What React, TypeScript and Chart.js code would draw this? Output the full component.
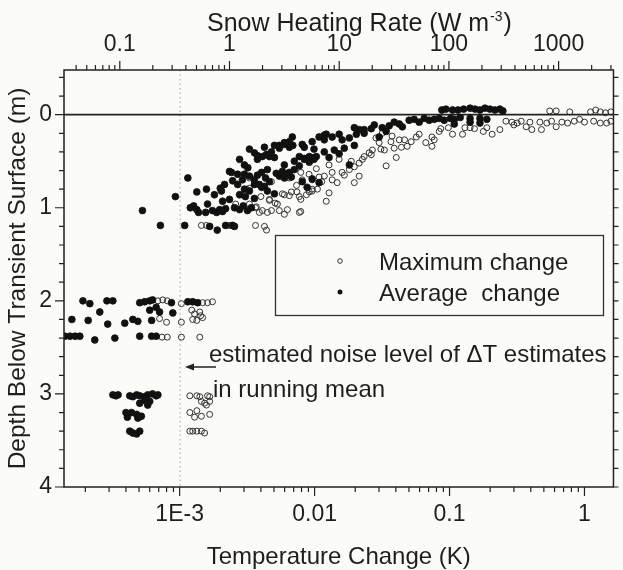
import React, { useEffect, useRef } from 'react';
import { Chart, registerables } from 'chart.js';

Chart.register(...registerables);

// ---------- axis ranges & tick labels ----------
const X_MIN = 1.39e-4;
const X_MAX = 1.64;
const TOP_MIN = 0.031;
const TOP_MAX = 3162;
const Y_MIN = -0.48;
const Y_MAX = 4;

const xTickMajors = [1e-3, 0.01, 0.1, 1];
const xTickLabels = ['1E-3', '0.01', '0.1', '1'];
const topTickMajors = [0.1, 1, 10, 100, 1000];
const topTickLabels = ['0.1', '1', '10', '100', '1000'];
const yTickMajors = [0, 1, 2, 3, 4];
const yTickLabels = ['0', '1', '2', '3', '4'];
const yMinorStep = 0.2;

const noiseLevel = 1e-3;

// ---------- data: [temperature change (K), depth (m)] ----------
const avgDeep: [number, number][] = [
  [3.2e-4, 3.01], [3.37e-4, 3.02], [3.5e-4, 3.01], [4.27e-4, 3.02], [4.5e-4, 3.03], [4.8e-4, 3.01],
  [5.06e-4, 3.02], [5.5e-4, 3.03], [5.8e-4, 3.01], [6.3e-4, 3.0], [6.7e-4, 3.02], [6.9e-4, 3.01],
  [5.06e-4, 3.1], [5.5e-4, 3.07], [5.8e-4, 3.12], [6.0e-4, 3.08],
  [4.0e-4, 3.2], [4.1e-4, 3.25], [4.4e-4, 3.2], [4.8e-4, 3.22], [4.9e-4, 3.26], [5.2e-4, 3.24],
  [4.27e-4, 3.4], [4.5e-4, 3.42], [4.8e-4, 3.43], [5.06e-4, 3.4],
];

const avgMid: [number, number][] = [
  [1.92e-4, 2.0], [2.16e-4, 2.03], [2.89e-4, 2.0], [3.2e-4, 2.0], [5.06e-4, 2.02], [5.51e-4, 2.01],
  [6.0e-4, 2.0], [6.3e-4, 1.99], [8.7e-4, 2.02], [1.15e-3, 2.01], [1.25e-3, 2.01], [1.36e-3, 2.02],
  [2.56e-4, 2.12], [6.0e-4, 2.1], [6.7e-4, 2.07], [7.1e-4, 2.12], [8.9e-4, 2.13],
  [1.59e-4, 2.2], [2.1e-4, 2.21], [2.93e-4, 2.25], [3.92e-4, 2.24], [4.5e-4, 2.2], [4.9e-4, 2.22], [6.2e-4, 2.21],
  [1.41e-4, 2.38], [1.54e-4, 2.38], [1.68e-4, 2.38], [1.82e-4, 2.38], [2.35e-4, 2.42], [3.31e-4, 2.4],
  [5.06e-4, 2.38], [6.2e-4, 2.38], [6.7e-4, 2.38],
];

const avgUpper: [number, number][] = [
  [5.3e-4, 1.03], [7.2e-4, 1.19], [9.3e-4, 0.88], [1.09e-3, 1.19], [1.15e-3, 0.68], [1.34e-3, 0.83],
  [1.2e-3, 1.0], [1.27e-3, 0.98], [1.34e-3, 1.02], [1.38e-3, 1.05], [1.56e-3, 1.05], [1.58e-3, 0.8], [1.67e-3, 1.2],
  [1.75e-3, 1.03], [1.88e-3, 1.05], [1.98e-3, 1.02], [2.08e-3, 1.04], [2.19e-3, 1.01],
  [1.9e-3, 1.24], [2.19e-3, 1.19], [2.47e-3, 1.19], [2.55e-3, 1.2],
  [2.0e-3, 0.79], [2.04e-3, 0.82], [2.08e-3, 0.93], [2.34e-3, 0.91],
  [2.34e-3, 0.61], [2.42e-3, 0.62], [2.47e-3, 0.71], [2.69e-3, 0.75],
  [2.55e-3, 1.0], [2.78e-3, 1.02], [2.96e-3, 0.98], [3.18e-3, 1.03], [3.4e-3, 1.0],
  [3.02e-3, 0.54], [3.2e-3, 0.57],
  [2.78e-3, 0.86], [3.07e-3, 0.88], [3.29e-3, 0.82], [3.58e-3, 0.9],
  [3.58e-3, 0.41], [3.77e-3, 0.44],
  [3.77e-3, 0.65], [4.05e-3, 0.62], [4.33e-3, 0.68], [4.63e-3, 0.72],
  [4.1e-3, 0.45], [4.47e-3, 0.43], [4.79e-3, 0.4],
  [4.05e-3, 0.78], [4.47e-3, 0.82], [5.04e-3, 0.85],
  [5.04e-3, 0.33], [5.48e-3, 0.36], [5.97e-3, 0.3], [6.5e-3, 0.35], [6.84e-3, 0.24],
  [5.2e-3, 0.63], [5.48e-3, 0.66], [5.77e-3, 0.61], [5.97e-3, 0.68], [6.29e-3, 0.64], [6.5e-3, 0.62], [6.73e-3, 0.67],
  [7.08e-3, 0.5], [7.71e-3, 0.55], [8.39e-3, 0.47], [9.14e-3, 0.45], [9.9e-3, 0.48], [0.0103, 0.45],
  [8.1e-3, 0.72], [8.8e-3, 0.78], [9.6e-3, 0.69], [0.0108, 0.73],
  [0.0108, 0.24], [0.0118, 0.22],
  [8.1e-3, 0.32], [9.6e-3, 0.29], [0.0122, 0.21], [0.0135, 0.24], [0.016, 0.27], [0.0181, 0.25], [0.0204, 0.21], [0.0214, 0.16],
  [0.0181, 0.54],
  [0.0118, 0.4], [0.014, 0.38], [0.0152, 0.42], [0.0166, 0.36], [0.0197, 0.33],
  [0.0233, 0.2], [0.0263, 0.15], [0.0301, 0.24], [0.0317, 0.14], [0.0339, 0.18], [0.0357, 0.12],
  [0.0389, 0.08], [0.0424, 0.1], [0.0447, 0.13], [0.0502, 0.06], [0.0547, 0.05], [0.0596, 0.08], [0.0649, 0.04],
  [0.0707, 0.06], [0.077, 0.05], [0.0838, 0.04], [0.0913, 0.06], [0.1017, 0.04], [0.1085, 0.05], [0.12, 0.03],
  [0.142, 0.04], [0.168, 0.04], [0.189, 0.05],
  [0.0877, -0.05], [0.094, -0.06], [0.1052, -0.05], [0.1155, -0.05], [0.1272, -0.06], [0.142, -0.07], [0.1545, -0.06],
  [0.168, -0.05], [0.183, -0.07], [0.199, -0.06], [0.2166, -0.05], [0.236, -0.06], [0.2485, -0.04],
  [0.1085, 0.1], [0.142, 0.08], [0.168, 0.09],
  [5.48e-3, 0.33], [5.97e-3, 0.32], [6.9e-3, 0.33], [3.77e-3, 0.48], [4.38e-3, 0.43], [4.63e-3, 0.45],
  [7.71e-3, 0.45], [8.39e-3, 0.48], [9.14e-3, 0.46], [0.01, 0.46],
  [3.02e-3, 0.64], [2.69e-3, 0.64], [2.92e-3, 0.7],
  [3.29e-3, 0.66], [3.58e-3, 0.7], [3.9e-3, 0.75], [4.25e-3, 0.77],
  [2.78e-3, 0.48], [3.29e-3, 0.37], [4.25e-3, 0.35], [5.04e-3, 0.46], [6.5e-3, 0.29], [8.39e-3, 0.35],
  [9.9e-3, 0.37], [0.0118, 0.27], [0.0152, 0.21], [0.0197, 0.14], [0.0233, 0.16], [0.0277, 0.11],
  [2.15e-3, 0.75], [1.81e-3, 0.86], [1.61e-3, 0.96], [3.02e-3, 0.8], [3.58e-3, 0.75], [4.47e-3, 0.59],
  [5.97e-3, 0.54], [7.08e-3, 0.59], [9.14e-3, 0.51], [0.0128, 0.46],
];

const maxDeep: [number, number][] = [
  [1.19e-3, 3.02], [1.34e-3, 3.02], [1.41e-3, 3.03], [1.61e-3, 3.02], [1.67e-3, 3.03],
  [1.45e-3, 3.08], [1.53e-3, 3.1], [1.67e-3, 3.08], [1.58e-3, 3.12],
  [1.19e-3, 3.2], [1.34e-3, 3.18], [1.45e-3, 3.24], [1.67e-3, 3.22], [1.29e-3, 3.25],
  [1.19e-3, 3.4], [1.25e-3, 3.4], [1.34e-3, 3.4], [1.45e-3, 3.4], [1.53e-3, 3.42],
];

const maxMid: [number, number][] = [
  [6.9e-4, 2.0], [7.5e-4, 1.99], [8.1e-4, 2.0], [1.03e-3, 2.03], [1.48e-3, 2.02], [1.61e-3, 2.02], [1.75e-3, 2.01],
  [1.23e-3, 2.1], [1.41e-3, 2.12], [1.29e-3, 2.14], [1.43e-3, 2.16],
  [7.1e-4, 2.19], [8.0e-4, 2.23], [1.03e-3, 2.23], [1.25e-3, 2.2], [1.34e-3, 2.21], [1.48e-3, 2.18],
  [7.4e-4, 2.39], [8.1e-4, 2.39], [1.03e-3, 2.39], [1.41e-3, 2.39],
];

const maxUpper: [number, number][] = [
  [1.45e-3, 1.19], [1.58e-3, 1.19], [2.34e-3, 1.19], [2.42e-3, 1.19], [3.65e-3, 1.19], [4.25e-3, 1.2], [4.4e-3, 1.24],
  [3.65e-3, 1.0], [4.1e-3, 1.03], [4.47e-3, 1.05], [4.79e-3, 1.03], [5.48e-3, 1.03], [6.29e-3, 1.02], [7.71e-3, 1.05],
  [7.9e-3, 0.91], [7.9e-3, 1.04],
  [3.13e-3, 0.8], [3.29e-3, 0.79], [5.77e-3, 0.85], [6.5e-3, 0.87], [7.4e-3, 0.83], [7.71e-3, 0.88], [9.14e-3, 0.83],
  [9.6e-3, 0.82], [0.0128, 0.84], [0.0122, 0.93], [9.6e-3, 0.8], [4.63e-3, 0.92], [5.1e-3, 0.95],
  [3.29e-3, 0.68],
  [7.9e-3, 0.62], [8.1e-3, 0.7], [9.1e-3, 0.64], [9.6e-3, 0.7], [0.0108, 0.67], [0.0118, 0.66], [0.0135, 0.62],
  [0.0135, 0.7], [0.016, 0.62], [0.0197, 0.73], [0.0214, 0.66], [0.0103, 0.58],
  [0.0187, 0.5], [0.0197, 0.56], [0.0214, 0.52], [0.0226, 0.48], [0.0339, 0.55],
  [0.0233, 0.45], [0.0254, 0.41], [0.0268, 0.38], [0.0285, 0.25], [0.0301, 0.3], [0.031, 0.37], [0.0389, 0.36],
  [0.0403, 0.46], [0.0424, 0.27], [0.044, 0.35], [0.0485, 0.34], [0.052, 0.29], [0.0567, 0.24], [0.0667, 0.3],
  [0.0741, 0.34], [0.077, 0.27], [0.0741, 0.24],
  [0.0861, 0.15], [0.1052, 0.21], [0.1248, 0.21], [0.13, 0.14], [0.153, 0.15], [0.178, 0.18], [0.207, 0.21],
  [0.407, 0.16], [0.48, 0.16], [0.617, 0.13],
  [0.262, 0.07], [0.29, 0.08], [0.317, 0.09], [0.34, 0.07], [0.394, 0.08], [0.467, 0.08], [0.526, 0.09], [0.57, 0.07],
  [0.68, 0.08], [0.75, 0.09], [0.84, 0.07], [0.92, 0.05], [1.0, 0.08], [1.17, 0.07], [1.31, 0.09], [1.46, 0.09], [1.57, 0.07],
  [0.553, -0.04], [0.617, -0.04], [0.778, -0.03], [1.11, -0.03], [1.21, -0.05], [1.31, -0.03], [1.43, -0.02], [1.57, -0.03],
  [0.0317, 0.2], [0.0375, 0.23], [3.7e-3, 0.99],
  [4.0e-3, 0.88], [4.63e-3, 0.91], [5.3e-3, 0.96], [5.97e-3, 0.86], [6.73e-3, 0.83], [7.35e-3, 0.76], [8.7e-3, 0.86],
  [0.0105, 0.8], [0.0113, 0.72], [0.0147, 0.73], [0.0166, 0.65], [0.0181, 0.59], [0.0152, 0.48], [0.0128, 0.54],
  [0.0263, 0.43], [0.0329, 0.38], [0.0368, 0.29], [0.0464, 0.27], [0.0596, 0.21], [0.0838, 0.18], [0.098, 0.14],
  [0.142, 0.14], [0.189, 0.14], [0.236, 0.16], [0.3, 0.11], [0.37, 0.13],
  [5.97e-3, 1.07], [3.9e-3, 1.05], [3.29e-3, 0.96], [2.87e-3, 0.86], [2.6e-3, 0.96],
  [4.79e-3, 0.72], [5.48e-3, 0.64], [6.5e-3, 0.68],
];

const maxChange = [...maxUpper, ...maxMid, ...maxDeep];
const avgChange = [...avgUpper, ...avgMid, ...avgDeep];

// ---------- helpers ----------
const FONT = '"Liberation Sans", Arial, Helvetica, sans-serif';
const TEXT = '#1e1e1e';
const INK = '#222';
const BG = '#fbfbf8';

function logTicks(min: number, max: number): number[] {
  const out: number[] = [];
  for (let e = Math.floor(Math.log10(min)); e <= Math.ceil(Math.log10(max)); e++) {
    for (let m = 1; m <= 9; m++) {
      const v = Number((m * Math.pow(10, e)).toPrecision(10));
      if (v >= min && v <= max) out.push(v);
    }
  }
  return out;
}

function linTicks(min: number, max: number, step: number): number[] {
  const out: number[] = [];
  for (let v = Math.ceil(min / step) * step; v <= max + 1e-9; v += step) {
    out.push(Math.round(v * 1000) / 1000);
  }
  return out;
}

function majorIndex(v: number, majors: number[]): number {
  return majors.findIndex((m) => Math.abs(v - m) <= Math.abs(m) * 1e-6 + 1e-9);
}

function labelFor(v: number, majors: number[], labels: string[]): string {
  const i = majorIndex(v, majors);
  return i >= 0 ? labels[i] : '';
}

const decorPlugin = {
  id: 'decor',
  beforeDraw(chart: any) {
    const { ctx, width, height } = chart;
    ctx.save();
    ctx.fillStyle = BG;
    ctx.fillRect(0, 0, width, height);
    ctx.restore();
  },
  beforeDatasetsDraw(chart: any) {
    const { ctx, chartArea: a, scales } = chart;
    ctx.save();
    const nx = scales.x.getPixelForValue(noiseLevel);
    ctx.strokeStyle = '#a0a0a0';
    ctx.lineWidth = 1;
    ctx.setLineDash([1.5, 3]);
    ctx.beginPath();
    ctx.moveTo(nx + 0.5, a.top);
    ctx.lineTo(nx + 0.5, a.bottom);
    ctx.stroke();
    ctx.setLineDash([]);
    const zy = scales.y.getPixelForValue(0);
    ctx.strokeStyle = INK;
    ctx.lineWidth = 1.8;
    ctx.beginPath();
    ctx.moveTo(a.left, zy);
    ctx.lineTo(a.right, zy);
    ctx.stroke();
    ctx.restore();
  },
  afterDraw(chart: any) {
    const { ctx, chartArea: a, scales } = chart;
    ctx.save();
    ctx.strokeStyle = INK;
    ctx.lineWidth = 1.5;
    ctx.strokeRect(a.left, a.top, a.right - a.left, a.bottom - a.top);

    ctx.lineWidth = 1.2;
    ctx.beginPath();
    for (const t of scales.x.ticks) {
      const p = scales.x.getPixelForValue(t.value);
      if (p < a.left + 1 || p > a.right - 1) continue;
      const len = majorIndex(t.value, xTickMajors) >= 0 ? 9 : 5;
      ctx.moveTo(p, a.bottom);
      ctx.lineTo(p, a.bottom + len);
    }
    for (const t of scales.x2.ticks) {
      const p = scales.x2.getPixelForValue(t.value);
      if (p < a.left + 1 || p > a.right - 1) continue;
      const len = majorIndex(t.value, topTickMajors) >= 0 ? 9 : 5;
      ctx.moveTo(p, a.top);
      ctx.lineTo(p, a.top - len);
    }
    for (const t of scales.y.ticks) {
      const p = scales.y.getPixelForValue(t.value);
      if (p < a.top + 1 || p > a.bottom + 1) continue;
      const major = majorIndex(t.value, yTickMajors) >= 0;
      ctx.moveTo(a.left - (major ? 9 : 5), p);
      ctx.lineTo(a.left, p);
      ctx.moveTo(a.right, p);
      ctx.lineTo(a.right + 5, p);
    }
    ctx.stroke();

    // top title with superscript
    ctx.fillStyle = TEXT;
    ctx.textBaseline = 'alphabetic';
    ctx.textAlign = 'left';
    ctx.font = `25px ${FONT}`;
    const part1 = 'Snow Heating Rate (W m';
    let tx = 207;
    ctx.fillText(part1, tx, 31);
    tx += ctx.measureText(part1).width + 1;
    ctx.font = `14px ${FONT}`;
    ctx.fillText('-3', tx, 21);
    tx += ctx.measureText('-3').width + 1;
    ctx.font = `25px ${FONT}`;
    ctx.fillText(')', tx, 31);

    // legend box
    ctx.strokeStyle = '#333';
    ctx.lineWidth = 1.3;
    ctx.strokeRect(275.5, 235.5, 328, 80);
    ctx.lineWidth = 1;
    ctx.beginPath();
    ctx.arc(340, 261, 2.3, 0, Math.PI * 2);
    ctx.stroke();
    ctx.fillStyle = '#111';
    ctx.beginPath();
    ctx.arc(340, 292, 2.5, 0, Math.PI * 2);
    ctx.fill();
    ctx.fillStyle = TEXT;
    ctx.font = `24px ${FONT}`;
    ctx.fillText('Maximum change', 379, 270);
    ctx.fillText('Average  change', 379, 301);

    // annotation
    ctx.fillText('estimated noise level of \u0394T estimates', 209, 362);
    ctx.fillText('in running mean', 213, 397);

    // arrow
    ctx.strokeStyle = INK;
    ctx.lineWidth = 1.5;
    ctx.beginPath();
    ctx.moveTo(216, 367);
    ctx.lineTo(190, 367);
    ctx.stroke();
    ctx.fillStyle = INK;
    ctx.beginPath();
    ctx.moveTo(185, 367);
    ctx.lineTo(194, 363.5);
    ctx.lineTo(194, 370.5);
    ctx.closePath();
    ctx.fill();
    ctx.restore();
  },
};

export default function App() {
  const ref = useRef<HTMLCanvasElement | null>(null);

  useEffect(() => {
    document.body.style.margin = '0';
    document.body.style.background = BG;
    Chart.defaults.font.family = FONT;
    const canvas = ref.current;
    if (!canvas) return;

    const chart = new Chart(canvas, {
      type: 'scatter',
      data: {
        datasets: [
          {
            label: 'Average change',
            data: avgChange.map(([x, y]) => ({ x, y })),
            pointRadius: 3.4,
            pointBackgroundColor: '#111',
            pointBorderColor: '#111',
            pointBorderWidth: 0.8,
            showLine: false,
          },
          {
            label: 'Maximum change',
            data: maxChange.map(([x, y]) => ({ x, y })),
            pointRadius: 3,
            pointBackgroundColor: 'rgba(0,0,0,0)',
            pointBorderColor: '#333',
            pointBorderWidth: 1,
            showLine: false,
          },
        ],
      },
      options: {
        responsive: false,
        animation: false,
        events: [],
        layout: { padding: { left: 0, right: 8, top: 0, bottom: 0 } },
        plugins: { legend: { display: false }, tooltip: { enabled: false } },
        scales: {
          x: {
            type: 'logarithmic',
            position: 'bottom',
            min: X_MIN,
            max: X_MAX,
            grid: { display: false, drawTicks: false },
            border: { display: false },
            afterBuildTicks: (s: any) => {
              s.ticks = logTicks(X_MIN, X_MAX).map((v) => ({ value: v }));
            },
            afterFit: (s: any) => {
              s.height = 83;
            },
            ticks: {
              autoSkip: false,
              maxRotation: 0,
              minRotation: 0,
              padding: 14,
              color: TEXT,
              font: { size: 23, family: FONT },
              callback: (v: any) => labelFor(Number(v), xTickMajors, xTickLabels),
            },
            title: {
              display: true,
              text: 'Temperature Change (K)',
              color: TEXT,
              font: { size: 24, lineHeight: 1, family: FONT },
              padding: { top: 0, bottom: 1 },
            },
          },
          x2: {
            axis: 'x',
            type: 'logarithmic',
            position: 'top',
            min: TOP_MIN,
            max: TOP_MAX,
            grid: { display: false, drawTicks: false },
            border: { display: false },
            afterBuildTicks: (s: any) => {
              s.ticks = logTicks(TOP_MIN, TOP_MAX).map((v) => ({ value: v }));
            },
            afterFit: (s: any) => {
              s.height = 70;
            },
            ticks: {
              autoSkip: false,
              maxRotation: 0,
              minRotation: 0,
              padding: 12,
              color: TEXT,
              font: { size: 23, family: FONT },
              callback: (v: any) => labelFor(Number(v), topTickMajors, topTickLabels),
            },
          },
          y: {
            type: 'linear',
            reverse: true,
            min: Y_MIN,
            max: Y_MAX,
            grid: { display: false, drawTicks: false },
            border: { display: false },
            afterBuildTicks: (s: any) => {
              s.ticks = linTicks(Y_MIN, Y_MAX, yMinorStep).map((v) => ({ value: v }));
            },
            afterFit: (s: any) => {
              s.width = 64;
            },
            ticks: {
              autoSkip: false,
              padding: 12,
              color: TEXT,
              font: { size: 23, family: FONT },
              callback: (v: any) => labelFor(Number(v), yTickMajors, yTickLabels),
            },
            title: {
              display: true,
              text: 'Depth Below Transient Surface (m)',
              color: TEXT,
              font: { size: 24.5, lineHeight: 1, family: FONT },
              padding: { top: 6, bottom: 0 },
            },
          },
        },
      } as any,
      plugins: [decorPlugin],
    });

    return () => chart.destroy();
  }, []);

  return (
    <div style={{ width: 623, height: 570, overflow: 'hidden' }}>
      <canvas ref={ref} width={623} height={570} style={{ display: 'block', width: 623, height: 570 }} />
    </div>
  );
}
